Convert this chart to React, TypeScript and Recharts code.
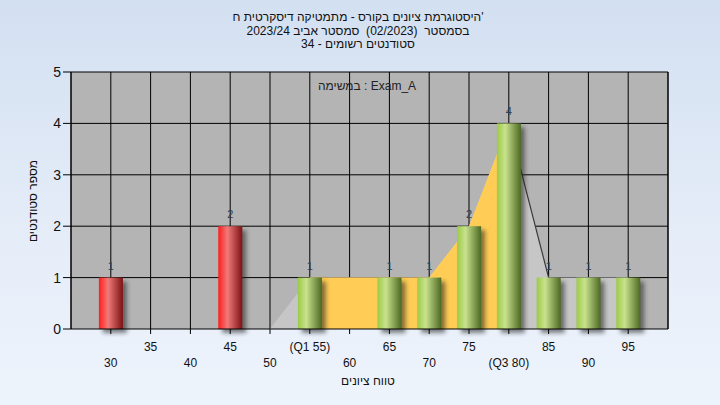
import { ComposedChart, Bar, Area, XAxis, YAxis, CartesianGrid, LabelList, ReferenceLine } from "recharts";

// grade histogram values
const scores = [30, 35, 40, 45, 50, 55, 60, 65, 70, 75, 80, 85, 90, 95];
const counts = [1, 0, 0, 2, 0, 1, 0, 1, 1, 2, 4, 1, 1, 1];
const polygon = [null, null, null, null, 0, 1, 1, 1, 1, 2, 4, 1, 1, 1];
const quartileBand = [null, null, null, null, null, 1, 1, 1, 1, 2, 4, null, null, null];
const tail = [null, null, null, null, null, null, null, null, null, null, 4, 1, null, null];
const tickNames: Record<number, string> = { 55: "(Q1 55)", 80: "(Q3 80)" };
const countTicks = [0, 1, 2, 3, 4, 5];
const countMax = 5;

const titleLines = [
  "'היסטוגרמת ציונים בקורס - מתמטיקה דיסקרטית ח",
  "בסמסטר  (02/2023)  סמסטר אביב 2023/24",
  "סטודנטים רשומים - 34",
];

const data = scores.map((s, i) => ({
  score: s,
  count: counts[i],
  polygon: polygon[i],
  band: quartileBand[i],
  tail: tail[i],
}));

const font = "'Liberation Sans', Arial, sans-serif";

function BarShape(props: any) {
  const { x, y, width, height, payload } = props;
  if (!height || height <= 0) return null;
  const grad = payload.score < 50 ? "url(#redBar)" : "url(#greenBar)";
  return (
    <g>
      <rect x={x + 4} y={y + 4} width={width} height={height} fill="#222" opacity={0.55} filter="url(#shadowBlur)" />
      <rect x={x} y={y} width={width} height={height} fill={grad} />
    </g>
  );
}

function ScoreTick(props: any) {
  const { x, y, payload } = props;
  const idx = scores.indexOf(payload.value);
  const lower = idx % 2 === 0;
  return (
    <text x={x} y={y + (lower ? 31 : 15)} textAnchor="middle" fontSize={12} fontFamily={font} fill="#111">
      {tickNames[payload.value] ?? payload.value}
    </text>
  );
}

export default function App() {
  return (
    <div
      style={{
        position: "fixed",
        left: 0,
        top: 0,
        width: 720,
        height: 405,
        background: "linear-gradient(180deg, #d3e0f1 0%, #e4ecf8 55%, #eef4fc 100%)",
      }}
    >
      <ComposedChart
        width={720}
        height={405}
        data={data}
        margin={{ top: 72, right: 0, bottom: 0, left: 0 }}
      >
        <defs>
          <linearGradient id="redBar" x1="0" y1="0" x2="1" y2="0">
            <stop offset="0%" stopColor="#ff1c1c" />
            <stop offset="38%" stopColor="#f07a7a" />
            <stop offset="100%" stopColor="#7c1212" />
          </linearGradient>
          <linearGradient id="greenBar" x1="0" y1="0" x2="1" y2="0">
            <stop offset="0%" stopColor="#9ccb45" />
            <stop offset="35%" stopColor="#c9e28e" />
            <stop offset="100%" stopColor="#4c6922" />
          </linearGradient>
          <filter id="shadowBlur" x="-50%" y="-20%" width="200%" height="140%">
            <feGaussianBlur stdDeviation="2" />
          </filter>
        </defs>
        <CartesianGrid yAxisId="left" horizontal={false} stroke="#000" strokeWidth={1} fill="#b4b4b4" fillOpacity={1} />
        {countTicks.slice(1).map((t) => (
          <ReferenceLine key={t} yAxisId="left" y={t} stroke="#000" strokeWidth={1} zIndex={-50} />
        ))}
        <XAxis
          dataKey="score"
          type="number"
          domain={[25, 100]}
          ticks={scores}
          interval={0}
          height={76}
          tickSize={5}
          stroke="#000"
          tick={<ScoreTick />}
        />
        <YAxis
          yAxisId="left"
          domain={[0, countMax]}
          ticks={countTicks}
          width={71}
          tickSize={8}
          stroke="#000"
          tick={{ fill: "#111", fontSize: 14, fontFamily: font }}
        />
        <YAxis
          yAxisId="right"
          orientation="right"
          domain={[0, countMax]}
          ticks={countTicks}
          width={52}
          tickSize={8}
          stroke="#000"
          tick={{ fill: "#111", fontSize: 14, fontFamily: font, textAnchor: "start" }}
        />
        <Area
          yAxisId="left"
          dataKey="polygon"
          type="linear"
          stroke="none"
          fill="#c6c6c6"
          fillOpacity={1}
          isAnimationActive={false}
        />
        <Area
          yAxisId="left"
          dataKey="band"
          type="linear"
          stroke="none"
          fill="#ffcc55"
          fillOpacity={1}
          isAnimationActive={false}
        />
        <Area
          yAxisId="left"
          dataKey="tail"
          type="linear"
          stroke="#3a3a3a"
          strokeWidth={1.2}
          fill="none"
          isAnimationActive={false}
        />
        <Bar yAxisId="left" dataKey="count" barSize={24} shape={<BarShape />} isAnimationActive={false}>
          <LabelList
            dataKey="count"
            position="top"
            offset={8}
            fontSize={11}
            fontFamily={font}
            fill="#2f3f55"
            formatter={(v: any) => (v ? v : "")}
          />
        </Bar>
      </ComposedChart>
      <svg
        width={720}
        height={405}
        style={{ position: "absolute", left: 0, top: 0, pointerEvents: "none" }}
      >
        {titleLines.map((t, i) => (
          <text
            key={i}
            x={358}
            y={21 + i * 13.5}
            textAnchor="middle"
            direction="rtl"
            fontSize={12}
            fontFamily={font}
            fill="#111"
            style={{ whiteSpace: "pre" }}
          >
            {t}
          </text>
        ))}
        <text x={367} y={90} textAnchor="middle" fontSize={12} fontFamily={font} fill="#222">
          במשימה : Exam_A
        </text>
        <text x={368} y={385} textAnchor="middle" fontSize={12} fontFamily={font} fill="#111">
          טווח ציונים
        </text>
        <text
          x={37}
          y={201}
          textAnchor="middle"
          fontSize={12}
          fontFamily={font}
          fill="#111"
          transform="rotate(-90 37 201)"
        >
          מספר סטודנטים
        </text>
      </svg>
    </div>
  );
}
